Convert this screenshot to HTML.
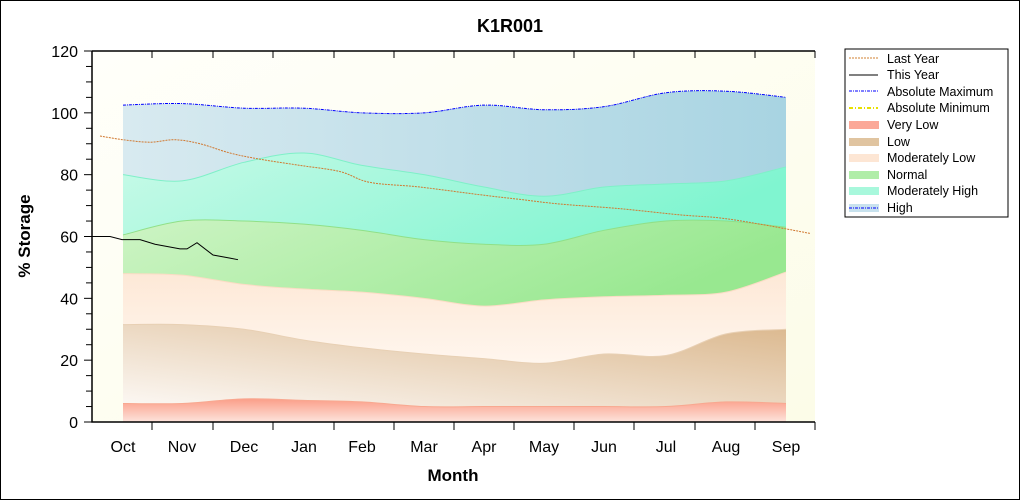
<!DOCTYPE html><html><head><style>body{margin:0;background:#fff}svg{display:block}text{font-family:"Liberation Sans",sans-serif}</style></head><body>
<svg id="s" width="1020" height="500" xmlns="http://www.w3.org/2000/svg">
<defs>
<linearGradient id="bg" x1="0" y1="0" x2="1" y2="1"><stop offset="0" stop-color="#fffffa"/><stop offset="1" stop-color="#fcfce8"/></linearGradient>
<linearGradient id="gH" x1="0" x2="1"><stop offset="0" stop-color="#d8eaf0"/><stop offset="1" stop-color="#a8d4e2"/></linearGradient>
<linearGradient id="gMH" x1="0" x2="1" y1="0" y2="0.3"><stop offset="0" stop-color="#c8fae8"/><stop offset="1" stop-color="#80f5d0"/></linearGradient>
<linearGradient id="gN" x1="0" x2="1" y1="0" y2="0.3"><stop offset="0" stop-color="#cdf4c4"/><stop offset="1" stop-color="#98e890"/></linearGradient>
<linearGradient id="gML" x1="0" x2="0" y1="0" y2="1"><stop offset="0" stop-color="#fde8d6"/><stop offset="1" stop-color="#fff6ee"/></linearGradient>
<linearGradient id="gL" x1="0" x2="1" y1="1" y2="0"><stop offset="0" stop-color="#fcf8f4"/><stop offset="1" stop-color="#dbb88e"/></linearGradient>
<linearGradient id="gVL" x1="0" x2="0" y1="0" y2="1"><stop offset="0" stop-color="#fb9e88"/><stop offset="1" stop-color="#fde4dc"/></linearGradient>
</defs>
<rect x="0.5" y="0.5" width="1019" height="499" fill="#fff" stroke="#000"/>
<rect x="92" y="51" width="723" height="371" fill="url(#bg)"/>
<text x="510" y="32" font-size="18" font-weight="bold" text-anchor="middle">K1R001</text>
<text x="453" y="481" font-size="17" font-weight="bold" text-anchor="middle">Month</text>
<text transform="translate(30,236) rotate(-90)" font-size="17" font-weight="bold" text-anchor="middle">% Storage</text>
<g id="g"></g>
<rect x="845" y="49" width="163" height="168" fill="#fff" stroke="#000"/>
<g font-size="12.5" fill="#000">
<line x1="849" y1="58" x2="878" y2="58" stroke="#d08030" stroke-dasharray="2,1"/><text x="887" y="63">Last Year</text>
<line x1="849" y1="75" x2="878" y2="75" stroke="#000"/><text x="887" y="79">This Year</text>
<line x1="849" y1="91" x2="878" y2="91" stroke="#0000ff" stroke-dasharray="3,1,1,1"/><text x="887" y="96">Absolute Maximum</text>
<line x1="849" y1="108" x2="878" y2="108" stroke="#e8e000" stroke-width="2" stroke-dasharray="4,2,1,2"/><text x="887" y="112">Absolute Minimum</text>
<rect x="849" y="121" width="30" height="8" fill="#fba898"/><text x="887" y="129">Very Low</text>
<rect x="849" y="138" width="30" height="8" fill="#e0c4a0"/><text x="887" y="146">Low</text>
<rect x="849" y="154" width="30" height="8" fill="#fde6d4"/><text x="887" y="162">Moderately Low</text>
<rect x="849" y="171" width="30" height="8" fill="#b0eda8"/><text x="887" y="179">Normal</text>
<rect x="849" y="187" width="30" height="8" fill="#a8f8dc"/><text x="887" y="195">Moderately High</text>
<rect x="849" y="204" width="30" height="8" fill="#c8e2ee"/><line x1="849" y1="208" x2="878" y2="208" stroke="#0000ff" stroke-dasharray="3,1,1,1"/><text x="887" y="212">High</text>
</g>
</svg>
<script>
const Y=v=>422-v*371/120, NS="http://www.w3.org/2000/svg", g=document.getElementById('g');
const xs=[123,182,244,304,362,424,484,544,604,666,726,786];
const VL=[6,6,7.5,7,6.5,5,5,5,5,5,6.5,6],L=[31.5,31.5,30,26.5,24,22,20.5,19,22,21.5,28.5,30],
ML=[48,47.5,44.5,43,42,40,37.5,39.5,40.5,41,42,48.5],N=[60.5,65,65,64,62,59,57.5,57.5,62,65,65,63],
MH=[80,78,84,87,83,80,76,73,76,77,78,82.5],H=[102.5,103,101.5,101.5,100,100,102.5,101,102,106.5,107,105];
function smooth(pts){let d="M"+pts[0][0]+","+pts[0][1];for(let i=0;i<pts.length-1;i++){const p0=pts[Math.max(i-1,0)],p1=pts[i],p2=pts[i+1],p3=pts[Math.min(i+2,pts.length-1)];
d+=" C"+(p1[0]+(p2[0]-p0[0])/6)+","+(p1[1]+(p2[1]-p0[1])/6)+" "+(p2[0]-(p3[0]-p1[0])/6)+","+(p2[1]-(p3[1]-p1[1])/6)+" "+p2[0]+","+p2[1];}return d;}
function el(t,a){const e=document.createElementNS(NS,t);for(const k in a)e.setAttribute(k,a[k]);g.appendChild(e);return e;}
function band(top,bot,fill,edge){const tp=xs.map((x,i)=>[x,Y(top[i])]);let d=smooth(tp);
if(bot){const bp=xs.map((x,i)=>[x,Y(bot[i])]).reverse();d+=" L"+bp[0][0]+","+bp[0][1]+smooth(bp).slice(1).replace(/^[^C]*/,"");}else d+=" L786,422 L123,422";
el('path',{d:d+"Z",fill:fill});el('path',{d:smooth(tp),fill:'none',stroke:edge,'stroke-width':1});}
band(H,MH,'url(#gH)','none');band(MH,N,'url(#gMH)','#7ff0c8');band(N,ML,'url(#gN)','#90e088');
band(ML,L,'url(#gML)','#fbdcc4');band(L,VL,'url(#gL)','#e8d0b4');band(VL,null,'url(#gVL)','#f8a890');
el('path',{d:smooth(xs.map((x,i)=>[x,Y(H[i])])),fill:'none',stroke:'#0000ff','stroke-dasharray':'3,1,1,1'});
const ly=[[100,92.5],[123,91.3],[150,90.5],[175,91.3],[200,90],[230,87],[260,85],[300,83],[340,81],[370,77.5],[420,76],[480,73.5],[520,72],[560,70.5],[620,69],[680,67],[720,66],[760,64],[810,61]];
el('path',{d:smooth(ly.map(p=>[p[0],Y(p[1])])),fill:'none',stroke:'#d07830','stroke-dasharray':'2,1'});
const ty=[[92,60],[110,60],[122,59],[140,59],[155,57.5],[180,56],[187,56],[197,58],[213,54],[230,53],[238,52.5]];
el('polyline',{points:ty.map(p=>p[0]+","+Y(p[1])).join(" "),fill:'none',stroke:'#000'});
el('path',{d:"M92,51 V422 H815 M92,51 H815",fill:'none',stroke:'#000','stroke-width':1.5});
for(let v=0;v<=120;v+=5){const y=Y(v);el('line',{x1:v%20?86:84,x2:92,y1:y,y2:y,stroke:'#000'});
if(v%20==0){const t=el('text',{x:78,y:y+6,'font-size':16,'text-anchor':'end'});t.textContent=v;}}
const tk=[152,213,273,334,394,454,514,574,634,695,755,815];
tk.forEach(x=>{el('line',{x1:x,x2:x,y1:422,y2:430,stroke:'#000'});el('line',{x1:x,x2:x,y1:51,y2:58,stroke:'#000'});});
["Oct","Nov","Dec","Jan","Feb","Mar","Apr","May","Jun","Jul","Aug","Sep"].forEach((m,i)=>{const t=el('text',{x:xs[i],y:452,'font-size':16,'text-anchor':'middle'});t.textContent=m;});
</script>
</body></html>
